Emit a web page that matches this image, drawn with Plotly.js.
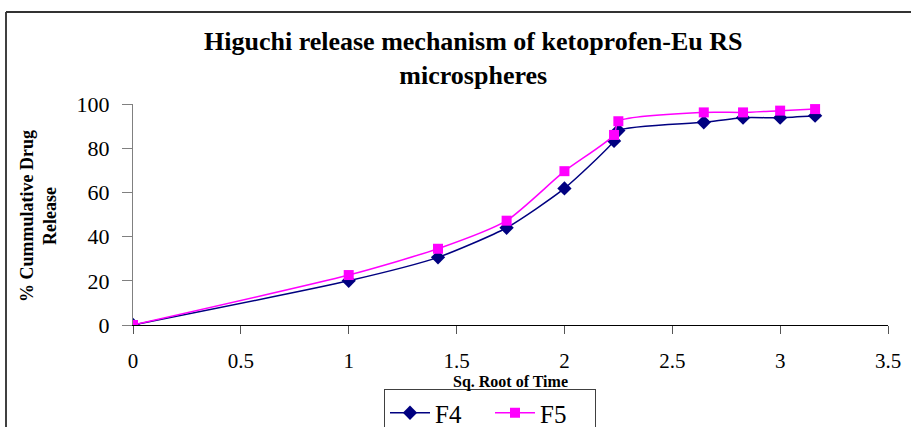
<!DOCTYPE html>
<html><head><meta charset="utf-8">
<script src="https://cdn.plot.ly/plotly-3.0.1.min.js"></script>
<style>html,body{margin:0;padding:0;background:#fff}#chart{width:911px;height:427px}</style>
</head><body><div id="chart"></div>
<script>
const sqrtTime = [0, 1, 1.414, 1.732, 2, 2.23, 2.25, 2.646, 2.828, 3, 3.162];
const f4 = [0, 20, 30.6, 44, 61.8, 83.3, 88, 91.7, 93.8, 93.8, 94.7];
const f5 = [0, 22.6, 34.5, 47.2, 69.6, 86, 92.2, 96.2, 96.2, 97, 97.7];
const xTicks = [0, 0.5, 1, 1.5, 2, 2.5, 3, 3.5];
const yTicks = [0, 20, 40, 60, 80, 100];

const serif = "'Liberation Serif', 'Times New Roman', serif";
const traces = [
  {x: sqrtTime, y: f4, name: 'F4', mode: 'lines+markers', type: 'scatter',
   line: {color: '#000080', width: 1.5, shape: 'spline', smoothing: 0.6},
   marker: {symbol: 'diamond', size: 11, color: '#000080'}},
  {x: sqrtTime, y: f5, name: 'F5', mode: 'lines+markers', type: 'scatter',
   line: {color: '#FF00FF', width: 1.5, shape: 'spline', smoothing: 0.6},
   marker: {symbol: 'square', size: 10, color: '#FF00FF'}}
];
const W = 755, H = 221, L = 133, B = 325;
const px = v => (v - L) / W;
const py = v => (B - v) / H;
const layout = {
  width: 911, height: 427,
  margin: {l: 133, r: 23, t: 104, b: 102, autoexpand: false},
  paper_bgcolor: '#fff', plot_bgcolor: '#fff',
  font: {family: serif, color: '#000', size: 22},
  showlegend: true,
  legend: {orientation: 'h', x: px(384), xanchor: 'left', y: py(389), yanchor: 'top',
           bordercolor: '#404040', borderwidth: 1, font: {size: 25, family: serif},
           entrywidth: 50, entrywidthmode: 'pixels', tracegroupgap: 0, itemwidth: 40},
  xaxis: {range: [0, 3.5], tickvals: xTicks, ticktext: xTicks.map(String),
          showgrid: false, zeroline: false, showline: true, linecolor: '#000', linewidth: 1,
          ticks: 'outside', ticklen: 8, tickcolor: '#555', tickfont: {size: 21, family: serif},
          ticklabelstandoff: 9, fixedrange: true},
  yaxis: {range: [0, 100], tickvals: yTicks, ticktext: yTicks.map(String),
          showgrid: false, zeroline: false, showline: true, linecolor: '#808080', linewidth: 1,
          ticks: 'outside', ticklen: 10, tickcolor: '#808080', tickfont: {size: 22, family: serif},
          ticklabelstandoff: 8, fixedrange: true},
  annotations: [
    {text: '<b>Higuchi release mechanism of ketoprofen-Eu RS<br>microspheres</b>',
     xref: 'paper', yref: 'paper', x: px(473), y: py(58), xanchor: 'center', yanchor: 'middle',
     showarrow: false, font: {size: 26, family: serif}, align: 'center'},
    {text: '<b>% Cummulative Drug<br>Release</b>', textangle: -90,
     xref: 'paper', yref: 'paper', x: px(38), y: py(216), xanchor: 'center', yanchor: 'middle',
     showarrow: false, font: {size: 18, family: serif}, align: 'center'},
    {text: '<b>Sq. Root of Time</b>', xref: 'paper', yref: 'paper',
     x: px(510), y: py(382), xanchor: 'center', yanchor: 'middle', showarrow: false,
     font: {size: 16, family: serif}}
  ],
  shapes: [
    {type: 'line', xref: 'paper', yref: 'paper', x0: px(6), x1: px(6), y0: py(440), y1: py(12),
     line: {color: '#000', width: 1.5}},
    {type: 'line', xref: 'paper', yref: 'paper', x0: px(6), x1: px(920), y0: py(12), y1: py(12),
     line: {color: '#333', width: 2}}
  ]
};
Plotly.newPlot('chart', traces, layout, {displayModeBar: false, staticPlot: true});
</script></body></html>
